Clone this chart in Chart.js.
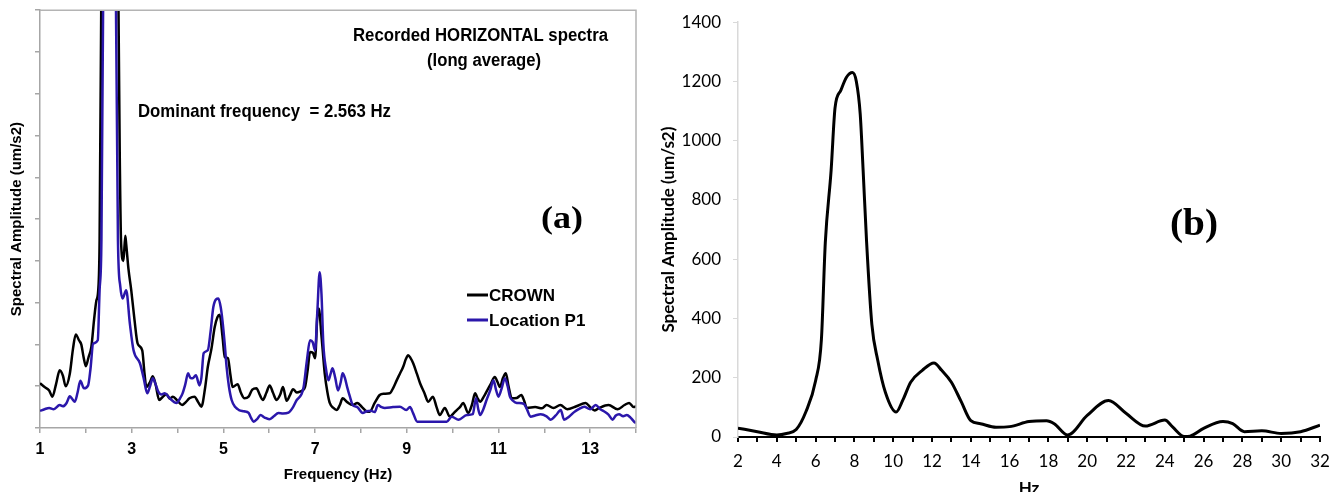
<!DOCTYPE html>
<html><head><meta charset="utf-8">
<script src="https://cdn.jsdelivr.net/npm/chart.js@4.4.1/dist/chart.umd.min.js"></script>
<style>
html,body{margin:0;padding:0;background:#fff;overflow:hidden;width:1341px;height:492px;}
#ca{position:absolute;left:0;top:0;}
#cb{position:absolute;left:650px;top:0;}
</style></head><body>
<canvas id="ca" width="650" height="492"></canvas>
<canvas id="cb" width="691" height="500"></canvas>
<script>
// ---------- Panel (a) data ----------
const crownFreq = [1.00,1.10,1.20,1.27,1.35,1.43,1.50,1.56,1.65,1.72,1.78,1.85,1.90,1.95,2.00,2.06,2.12,2.18,2.23,2.27,2.30,2.36,2.50,2.68,2.74,2.77,2.82,2.86,2.88,2.93,2.99,3.06,3.13,3.23,3.28,3.32,3.40,3.46,3.52,3.60,3.68,3.76,3.83,3.90,4.00,4.10,4.18,4.26,4.37,4.45,4.52,4.60,4.66,4.74,4.81,4.87,4.92,4.98,5.03,5.10,5.15,5.20,5.31,5.38,5.46,5.55,5.63,5.72,5.80,5.86,5.94,6.01,6.08,6.16,6.24,6.30,6.38,6.45,6.52,6.60,6.67,6.78,6.84,6.89,6.95,7.00,7.05,7.08,7.14,7.21,7.27,7.32,7.40,7.47,7.54,7.60,7.70,7.82,7.92,8.04,8.12,8.19,8.30,8.41,8.50,8.63,8.70,8.78,8.85,8.92,8.98,9.03,9.08,9.14,9.22,9.29,9.38,9.47,9.57,9.65,9.72,9.83,9.94,10.02,10.09,10.16,10.23,10.34,10.42,10.49,10.55,10.60,10.68,10.74,10.83,10.92,10.98,11.03,11.10,11.16,11.22,11.29,11.40,11.50,11.56,11.62,11.80,11.95,12.05,12.20,12.35,12.50,12.70,12.90,13.00,13.10,13.20,13.40,13.60,13.75,13.85,13.95,14.00];
const crownAmp = [1.07,0.98,0.90,0.75,1.05,1.38,1.25,1.00,1.30,1.90,2.24,2.10,2.00,1.70,1.48,1.70,1.94,2.60,3.05,3.30,4.50,14,24,14,6.5,4.4,4.0,4.6,4.4,3.8,3.3,2.6,2.02,1.86,1.30,0.98,1.10,1.24,1.05,0.67,0.75,0.81,0.70,0.75,0.65,0.55,0.62,0.71,0.75,0.62,0.51,0.95,1.46,1.90,2.41,2.65,2.71,2.20,1.70,1.67,1.30,0.98,1.05,0.85,0.71,0.75,0.92,0.95,0.78,0.67,0.85,1.02,0.85,0.67,0.80,0.98,0.65,0.78,0.93,0.85,0.87,0.98,1.40,1.82,1.80,1.67,2.70,2.86,2.20,1.31,0.85,0.60,0.48,0.43,0.55,0.71,0.62,0.55,0.60,0.48,0.40,0.39,0.60,0.79,0.82,0.83,0.95,1.14,1.30,1.46,1.65,1.74,1.68,1.55,1.30,1.07,0.85,0.63,0.75,0.50,0.31,0.48,0.27,0.35,0.43,0.50,0.60,0.36,0.55,0.83,0.70,0.63,0.75,0.87,1.05,1.22,1.10,0.98,1.20,1.31,1.00,0.71,0.72,0.79,0.65,0.48,0.50,0.47,0.55,0.48,0.55,0.45,0.52,0.60,0.50,0.42,0.48,0.55,0.45,0.55,0.60,0.50,0.52];
const p1Freq = [1.00,1.10,1.20,1.30,1.43,1.50,1.58,1.65,1.70,1.76,1.82,1.88,1.96,2.05,2.10,2.16,2.26,2.30,2.34,2.40,2.50,2.63,2.70,2.75,2.80,2.88,2.96,3.04,3.18,3.26,3.34,3.40,3.46,3.52,3.58,3.65,3.72,3.83,3.98,4.05,4.11,4.17,4.23,4.28,4.33,4.40,4.48,4.52,4.57,4.66,4.72,4.78,4.84,4.89,4.94,4.98,5.03,5.07,5.12,5.18,5.26,5.34,5.45,5.55,5.60,5.66,5.74,5.81,5.90,6.00,6.10,6.20,6.30,6.42,6.52,6.60,6.70,6.75,6.82,6.89,6.95,7.00,7.05,7.10,7.14,7.18,7.24,7.29,7.34,7.38,7.44,7.50,7.56,7.60,7.65,7.70,7.76,7.82,7.92,8.04,8.12,8.22,8.30,8.37,8.45,8.52,8.70,8.85,8.99,9.07,9.14,9.23,9.50,9.87,9.98,10.13,10.31,10.44,10.51,10.56,10.60,10.67,10.74,10.82,10.89,10.95,11.00,11.07,11.14,11.20,11.25,11.32,11.40,11.55,11.62,11.70,11.80,11.92,12.05,12.14,12.25,12.36,12.43,12.55,12.65,12.75,12.87,13.00,13.12,13.22,13.30,13.40,13.49,13.56,13.63,13.72,13.80,13.88,13.96,14.00];
const p1Amp = [0.41,0.45,0.48,0.45,0.55,0.52,0.60,0.76,0.70,0.63,0.85,1.13,0.95,1.02,1.40,2.02,2.10,3.30,4.50,14,24,14,4.5,3.4,3.1,3.3,2.5,1.86,1.55,1.20,0.83,1.00,1.19,1.05,0.87,0.80,0.83,0.71,0.60,0.70,0.83,1.05,1.31,1.20,1.19,1.26,1.02,1.20,1.79,1.86,2.30,2.89,3.08,3.10,2.90,2.57,2.00,1.46,1.00,0.67,0.50,0.43,0.40,0.36,0.25,0.15,0.22,0.31,0.25,0.21,0.28,0.36,0.35,0.37,0.50,0.67,0.80,0.98,1.60,2.10,2.05,1.86,2.80,3.73,3.20,2.02,1.40,1.14,1.30,1.43,1.20,0.90,1.10,1.31,1.20,0.98,0.75,0.55,0.50,0.36,0.40,0.41,0.38,0.55,0.50,0.48,0.50,0.51,0.43,0.50,0.35,0.15,0.15,0.15,0.27,0.20,0.31,0.33,0.71,0.45,0.31,0.45,0.67,0.90,1.14,0.90,0.75,0.95,1.19,1.00,0.75,0.65,0.60,0.58,0.45,0.27,0.30,0.33,0.28,0.20,0.30,0.43,0.20,0.28,0.38,0.45,0.51,0.45,0.55,0.45,0.40,0.32,0.20,0.30,0.33,0.28,0.31,0.25,0.15,0.12];
const seriesNamesA = ['CROWN', 'Location P1'];
const xTickLabelsA = [1,3,5,7,9,11,13];

// ---------- Panel (b) data ----------
const hzB = [2,3,4,4.5,5,5.5,6,6.3,6.5,6.8,7,7.3,7.6,7.9,8.1,8.3,8.45,8.63,8.9,9.2,9.6,10.15,10.5,10.9,11.5,12.1,12.5,13,13.5,14,14.5,15.3,16,17,17.9,18.3,19,20,21.1,22,23,24,24.4,25,25.3,26,27,27.5,28.1,29,30,31,32];
const ampB = [30,18,7,12,25,85,190,330,656,900,1110,1170,1215,1230,1200,1090,900,657,380,260,150,84,125,185,225,250,225,185,120,55,45,33,35,52,55,45,7,73,123,80,37,57,34,2,3,29,52,45,18,21,12,18,40];
const yTicksB = [0,200,400,600,800,1000,1200,1400];
const xTickLabelsB = [2,4,6,8,10,12,14,16,18,20,22,24,26,28,30,32];

const SANS = '"Liberation Sans", Arial, sans-serif';
const SERIF = '"Liberation Serif", "Times New Roman", serif';
const LATO = 'Lato, "Open Sans", sans-serif';
const BLUE = '#2b17ab';

function fitText(ctx, text, left, baseline, width, font, color) {
  ctx.save();
  ctx.font = font;
  ctx.fillStyle = color || '#000';
  ctx.textAlign = 'left';
  ctx.textBaseline = 'alphabetic';
  const m = ctx.measureText(text).width;
  ctx.translate(left, baseline);
  ctx.scale(width / m, 1);
  ctx.fillText(text, 0, 0);
  ctx.restore();
}

const annotA = {
  id: 'annotA',
  afterDraw(chart) {
    const ctx = chart.ctx;
    const a = chart.chartArea;
    ctx.save();
    ctx.strokeStyle = '#b4b4b4';
    ctx.lineWidth = 1.5;
    ctx.beginPath();
    ctx.moveTo(a.left, a.top); ctx.lineTo(a.right, a.top); ctx.lineTo(a.right, a.bottom);
    ctx.stroke();
    ctx.restore();
    fitText(ctx, 'Recorded HORIZONTAL spectra', 353, 41, 255, 'bold 18px ' + SANS);
    fitText(ctx, '(long average)', 427, 66, 114, 'bold 18px ' + SANS);
    fitText(ctx, 'Dominant frequency  = 2.563 Hz', 138, 117, 253, 'bold 19px ' + SANS);
    fitText(ctx, '(a)', 541, 228, 42, 'bold 32px ' + SERIF);
    // legend, in the order CROWN, Location P1
    const ys = [295, 320];
    seriesNamesA.forEach((name, i) => {
      const ds = chart.data.datasets.find(d => d.label === name);
      ctx.save();
      ctx.strokeStyle = ds.borderColor;
      ctx.lineWidth = 3;
      ctx.beginPath(); ctx.moveTo(467, ys[i]); ctx.lineTo(488, ys[i]); ctx.stroke();
      ctx.fillStyle = '#000';
      ctx.font = 'bold 17px ' + SANS;
      ctx.textBaseline = 'middle';
      ctx.fillText(ds.label, 489, ys[i] + 1);
      ctx.restore();
    });
  }
};

new Chart(document.getElementById('ca'), {
  type: 'line',
  data: {
    datasets: [
      { label: seriesNamesA[1], data: p1Freq.map((f, i) => ({x: f, y: p1Amp[i]})), borderColor: BLUE, borderWidth: 2.5, pointRadius: 0, cubicInterpolationMode: 'monotone', fill: false },
      { label: seriesNamesA[0], data: crownFreq.map((f, i) => ({x: f, y: crownAmp[i]})), borderColor: '#000', borderWidth: 2.5, pointRadius: 0, cubicInterpolationMode: 'monotone', fill: false }
    ]
  },
  options: {
    responsive: false, animation: false, devicePixelRatio: 1,
    layout: { padding: { top: 9, right: 14, left: 0, bottom: 0 } },
    plugins: { legend: { display: false }, tooltip: { enabled: false } },
    scales: {
      x: {
        type: 'linear', min: 1, max: 14,
        afterFit(s) { s.height = 64; },
        border: { color: '#a6a6a6', width: 1.5 },
        grid: { drawOnChartArea: false, drawTicks: true, tickLength: 5, color: '#a6a6a6', lineWidth: 1.5 },
        ticks: { stepSize: 1, autoSkip: false, maxRotation: 0, padding: 7, color: '#000',
          font: { family: SANS, size: 16, weight: 'bold' },
          callback: v => xTickLabelsA.includes(v) ? String(v) : '' },
        title: { display: true, text: 'Frequency (Hz)', color: '#000', font: { family: SANS, size: 15, weight: 'bold' }, padding: { top: 0, bottom: 8 } }
      },
      y: {
        type: 'linear', min: 0, max: 10,
        afterFit(s) { s.width = 40; },
        border: { color: '#a6a6a6', width: 1.5 },
        grid: { drawOnChartArea: false, drawTicks: true, tickLength: 5, color: '#a6a6a6', lineWidth: 1.5 },
        ticks: { stepSize: 1, callback: () => '' },
        title: { display: true, text: 'Spectral Amplitude (um/s2)', color: '#000', font: { family: SANS, size: 15, weight: 'bold' }, padding: { top: 8, bottom: 0 } }
      }
    }
  },
  plugins: [annotA]
});

const annotB = {
  id: 'annotB',
  afterDraw(chart) {
    fitText(chart.ctx, '(b)', 520, 235, 48, 'bold 38px ' + SERIF);
  }
};

new Chart(document.getElementById('cb'), {
  type: 'line',
  data: {
    datasets: [
      { label: 'Spectrum', data: hzB.map((f, i) => ({x: f, y: ampB[i]})), borderColor: '#000', borderWidth: 3, pointRadius: 0, cubicInterpolationMode: 'monotone', fill: false }
    ]
  },
  options: {
    responsive: false, animation: false, devicePixelRatio: 1,
    layout: { padding: { top: 17, right: 21, left: 0, bottom: 0 } },
    plugins: { legend: { display: false }, tooltip: { enabled: false } },
    scales: {
      x: {
        type: 'linear', min: 2, max: 32,
        afterFit(s) { s.height = 63; },
        border: { color: '#000', width: 2 },
        grid: { drawOnChartArea: false, drawTicks: true, tickLength: 5, color: '#000', lineWidth: 2 },
        ticks: { stepSize: 1, autoSkip: false, maxRotation: 0, padding: 9, color: '#000',
          font: { family: LATO, size: 17 },
          callback: v => xTickLabelsB.includes(v) ? String(v) : '' },
        title: { display: true, text: 'Hz', color: '#000', font: { family: LATO, size: 17, weight: 'bold' }, padding: { top: 0, bottom: 1 } }
      },
      y: {
        type: 'linear', min: 0, max: 1400,
        afterFit(s) { s.width = 88; },
        border: { color: '#d9d9d9', width: 1.5 },
        grid: { drawOnChartArea: false, drawTicks: true, tickLength: 5, color: '#d9d9d9' },
        afterBuildTicks(s) { s.ticks = yTicksB.map(v => ({value: v})); },
        ticks: { padding: 12, color: '#000', font: { family: LATO, size: 17 }, callback: v => String(v) },
        title: { display: true, text: 'Spectral Amplitude (um/s2)', color: '#000', font: { family: LATO, size: 17, weight: 'bold' }, padding: { top: 8, bottom: 0 } }
      }
    }
  },
  plugins: [annotB]
});
</script>
</body></html>
